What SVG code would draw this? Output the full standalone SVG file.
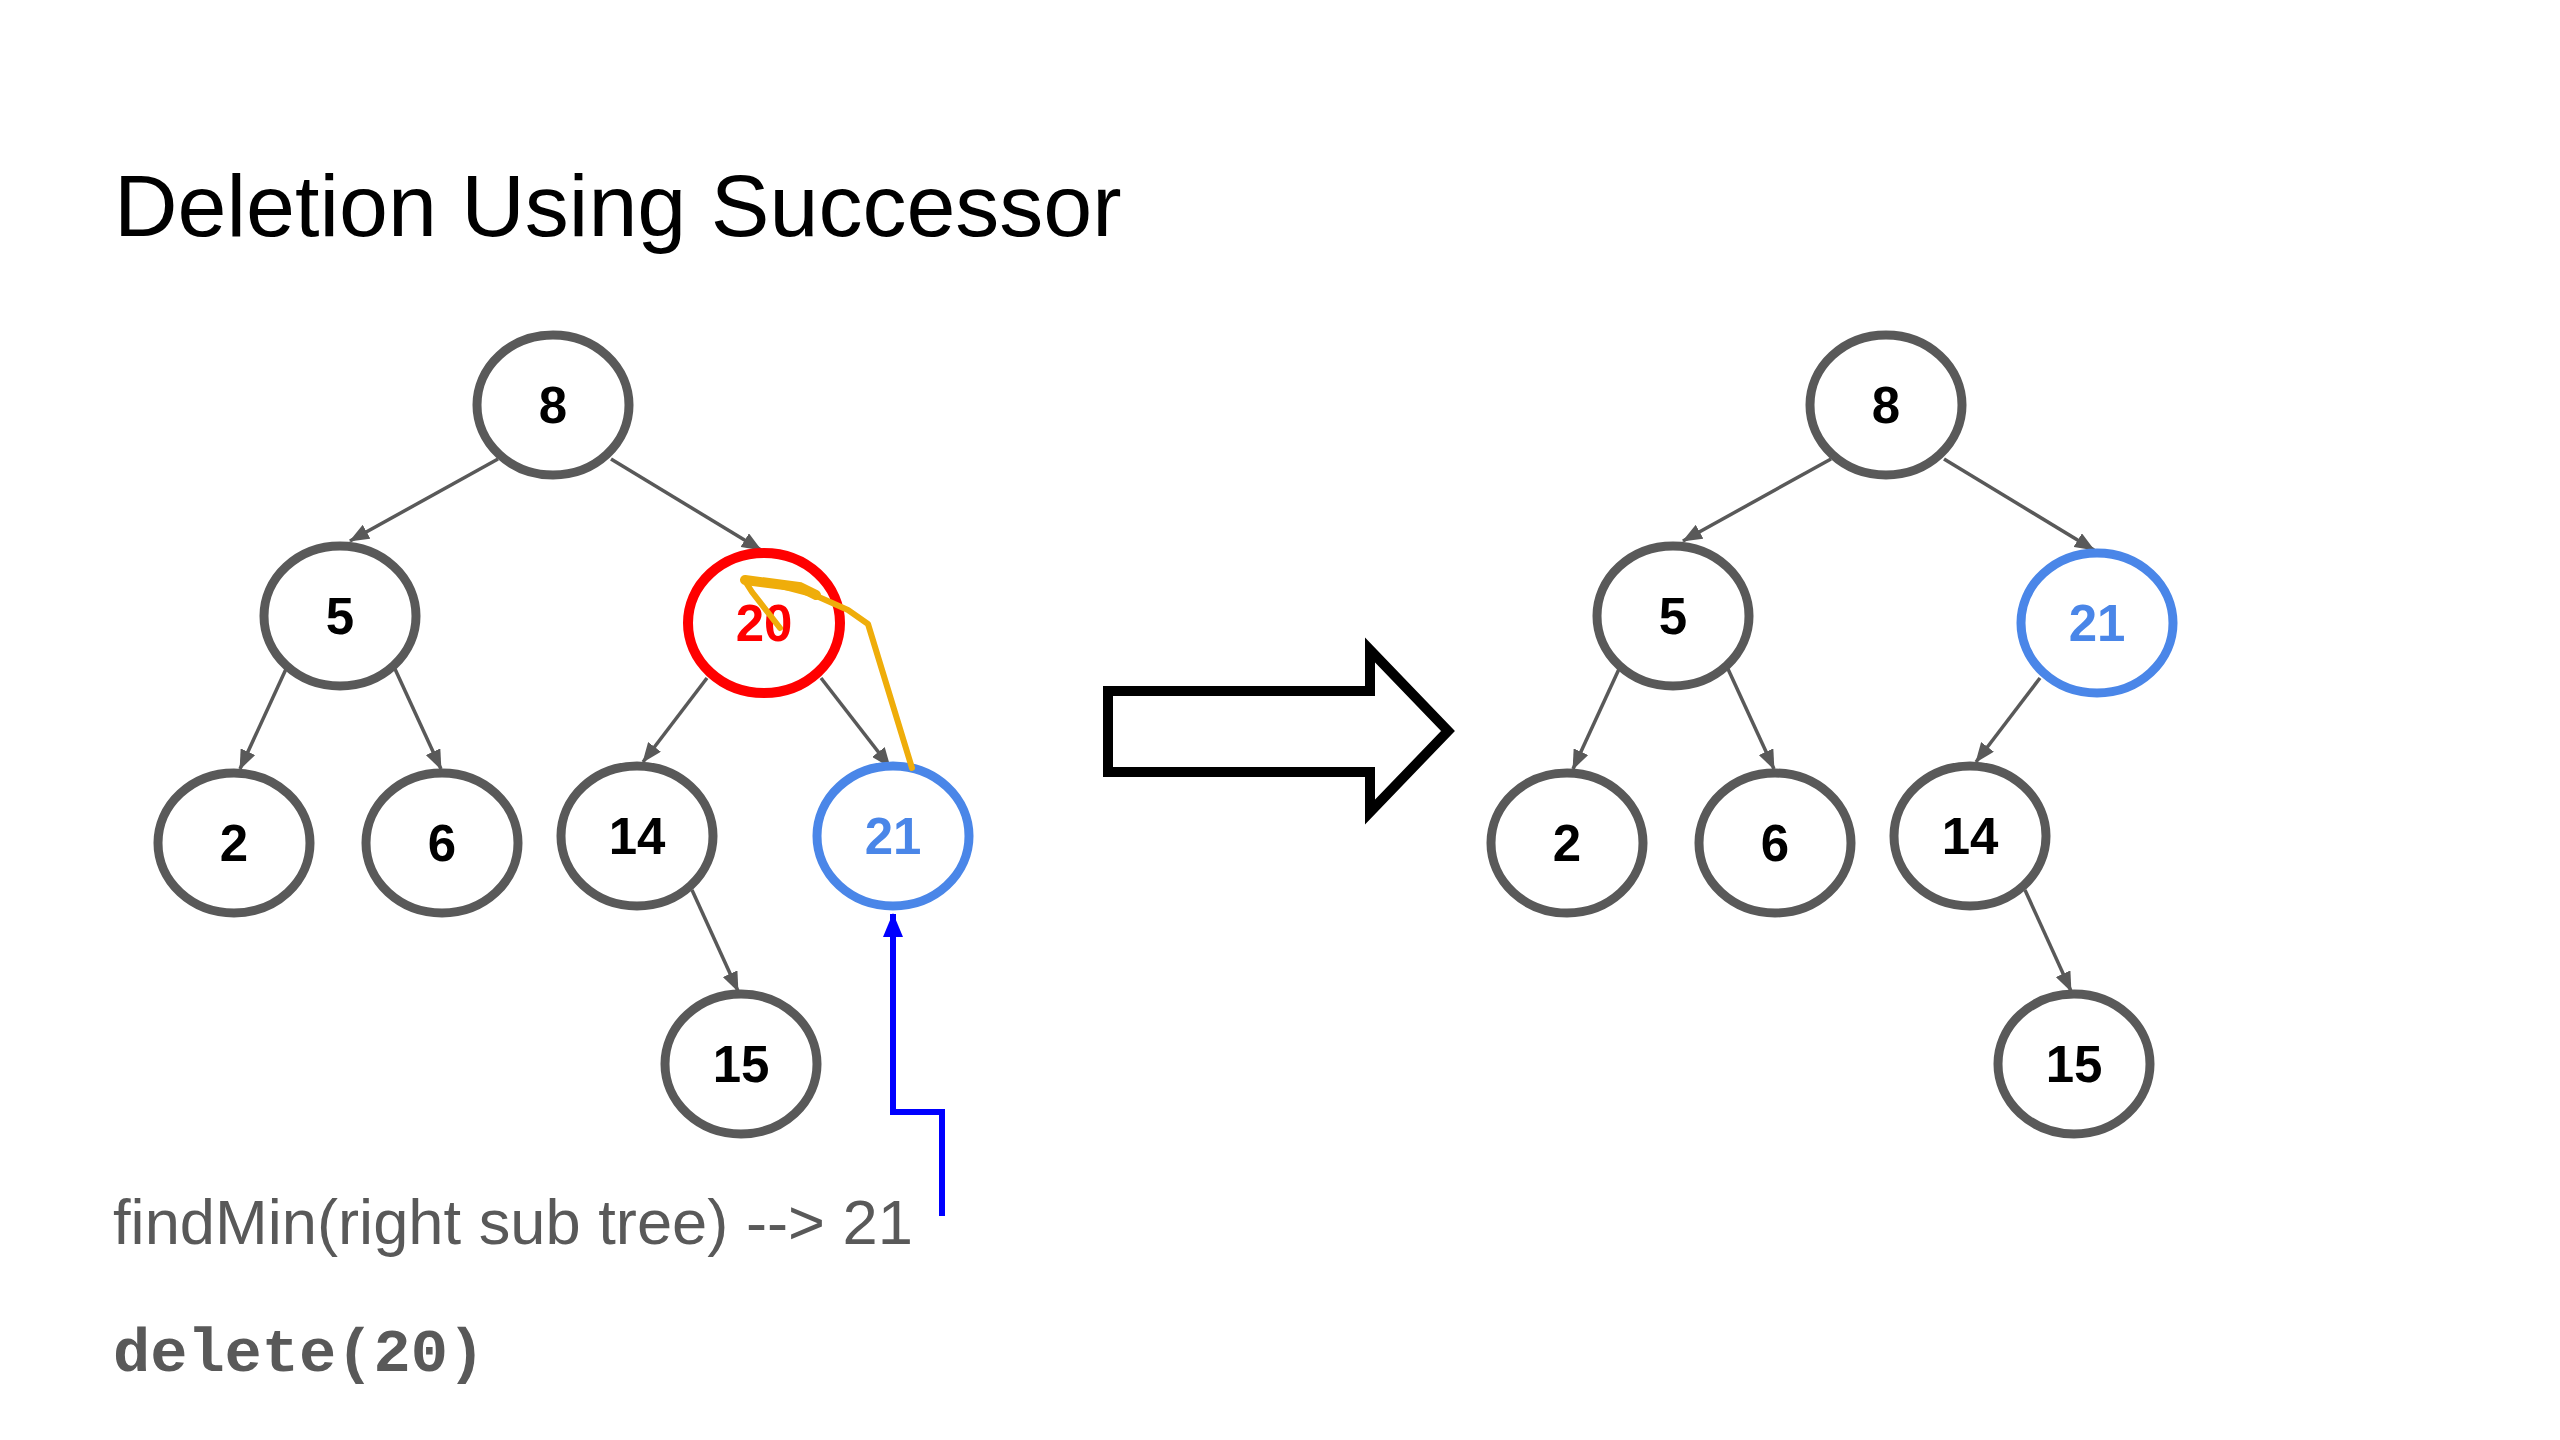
<svg xmlns="http://www.w3.org/2000/svg" width="2560" height="1440" viewBox="0 0 2560 1440">
<style>
.node{fill:#ffffff;stroke:#595959;stroke-width:9}
.del{fill:#ffffff;stroke:#ff0000;stroke-width:10}
.succ{fill:#ffffff;stroke:#4a86e8;stroke-width:9}
.lbl{font-family:"Liberation Sans",Arial,sans-serif;font-weight:bold;font-size:51px;text-anchor:middle;fill:#000000}
.edge{stroke:#595959;stroke-width:3.5;fill:none;marker-end:url(#ah)}
</style>
<defs>
<marker id="ah" markerUnits="userSpaceOnUse" markerWidth="20" markerHeight="16" viewBox="0 0 20 16" refX="19" refY="8" orient="auto">
<path d="M0,0 L20,8 L0,16 z" fill="#595959"/>
</marker>
<marker id="bh" markerUnits="userSpaceOnUse" markerWidth="24" markerHeight="20" viewBox="0 0 24 20" refX="23" refY="10" orient="auto">
<path d="M0,0 L24,10 L0,20 z" fill="#0000ff"/>
</marker>
</defs>
<rect width="2560" height="1440" fill="#ffffff"/>
<text x="114" y="236" font-family="'Liberation Sans',Arial,sans-serif" font-size="88" fill="#000000">Deletion Using Successor</text>

<g id="connectors">
<line class="edge" x1="498" y1="459" x2="350" y2="541"/>
<line class="edge" x1="611" y1="459" x2="761" y2="550"/>
<line class="edge" x1="286" y1="669" x2="240" y2="769"/>
<line class="edge" x1="395" y1="669" x2="441" y2="769"/>
<line class="edge" x1="707" y1="678" x2="643" y2="762"/>
<line class="edge" x1="821" y1="678" x2="890" y2="767"/>
<line class="edge" x1="692" y1="890" x2="738" y2="991"/>
<line class="edge" x1="1831" y1="459" x2="1683" y2="541"/>
<line class="edge" x1="1944" y1="459" x2="2094" y2="550"/>
<line class="edge" x1="1619" y1="669" x2="1573" y2="769"/>
<line class="edge" x1="1728" y1="669" x2="1774" y2="769"/>
<line class="edge" x1="2040" y1="678" x2="1976" y2="762"/>
<line class="edge" x1="2025" y1="890" x2="2071" y2="991"/>
<polyline points="942,1216 942,1112 893,1112 893,914" fill="none" stroke="#0000ff" stroke-width="6" marker-end="url(#bh)"/>
</g>

<g id="n8"><ellipse class="node" cx="553" cy="405" rx="76" ry="70"/><text class="lbl" x="553" y="423">8</text></g>
<g id="n5"><ellipse class="node" cx="340" cy="616" rx="76" ry="70"/><text class="lbl" x="340" y="634">5</text></g>
<g id="n20"><ellipse class="del" cx="764" cy="623" rx="76" ry="70"/><text class="lbl" x="764" y="641" style="fill:#ff0000">20</text></g>
<g id="n2"><ellipse class="node" cx="234" cy="843" rx="76" ry="70"/><text class="lbl" x="234" y="861">2</text></g>
<g id="n6"><ellipse class="node" cx="442" cy="843" rx="76" ry="70"/><text class="lbl" x="442" y="861">6</text></g>
<g id="n14"><ellipse class="node" cx="637" cy="836" rx="76" ry="70"/><text class="lbl" x="637" y="854">14</text></g>
<g id="n21"><ellipse class="succ" cx="893" cy="836" rx="76" ry="70"/><text class="lbl" x="893" y="854" style="fill:#4a86e8">21</text></g>
<g id="n15"><ellipse class="node" cx="741" cy="1064" rx="76" ry="70"/><text class="lbl" x="741" y="1082">15</text></g>

<g id="trace">
<path d="M912,768 L868,624 L848,610 L812,594 L770,583 L745,581 L752,592 L780,628" fill="none" stroke="#efad0a" stroke-width="6" stroke-linejoin="round" stroke-linecap="round"/>
<path d="M745,580 L800,587 L816,595" fill="none" stroke="#efad0a" stroke-width="10" stroke-linecap="round"/>
</g>

<g id="bigarrow"><path d="M1108,691 L1370,691 L1370,650 L1448,731 L1370,812 L1370,772 L1108,772 Z" fill="#ffffff" stroke="#000000" stroke-width="10" stroke-miterlimit="10"/></g>

<g id="r8"><ellipse class="node" cx="1886" cy="405" rx="76" ry="70"/><text class="lbl" x="1886" y="423">8</text></g>
<g id="r5"><ellipse class="node" cx="1673" cy="616" rx="76" ry="70"/><text class="lbl" x="1673" y="634">5</text></g>
<g id="r21"><ellipse class="succ" cx="2097" cy="623" rx="76" ry="70"/><text class="lbl" x="2097" y="641" style="fill:#4a86e8">21</text></g>
<g id="r2"><ellipse class="node" cx="1567" cy="843" rx="76" ry="70"/><text class="lbl" x="1567" y="861">2</text></g>
<g id="r6"><ellipse class="node" cx="1775" cy="843" rx="76" ry="70"/><text class="lbl" x="1775" y="861">6</text></g>
<g id="r14"><ellipse class="node" cx="1970" cy="836" rx="76" ry="70"/><text class="lbl" x="1970" y="854">14</text></g>
<g id="r15"><ellipse class="node" cx="2074" cy="1064" rx="76" ry="70"/><text class="lbl" x="2074" y="1082">15</text></g>

<text x="113" y="1244" font-family="'Liberation Sans',Arial,sans-serif" font-size="63" fill="#595959" textLength="800" lengthAdjust="spacingAndGlyphs">findMin(right sub tree) --&gt; 21</text>
<text x="113" y="1371" font-family="'Liberation Mono','Courier New',monospace" font-weight="bold" font-size="62" fill="#595959">delete(20)</text>
</svg>
